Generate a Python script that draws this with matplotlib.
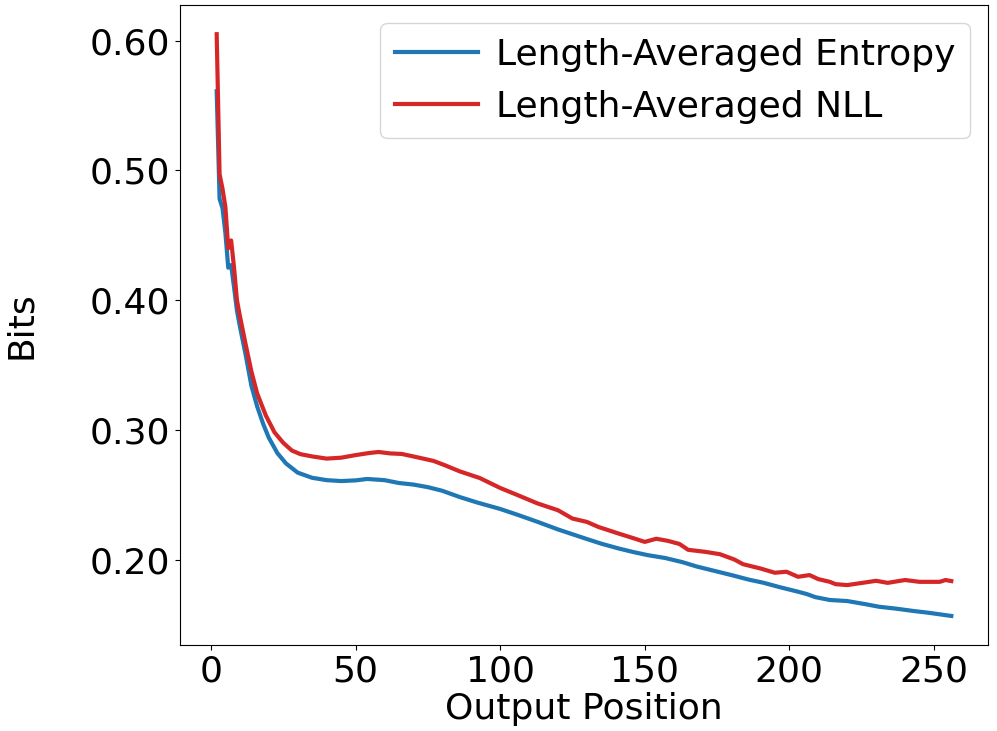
import numpy as np
import matplotlib
matplotlib.use("Agg")
import matplotlib.pyplot as plt
from matplotlib.ticker import FormatStrFormatter

# valeurs (positions de sortie et bits)
pos_entropy = [2, 3, 4, 5, 6, 7, 8, 9, 10, 12, 14, 16, 18, 20, 23, 26, 30, 35, 40, 45,
               50, 54, 60, 65, 70, 75, 80, 86, 92, 100, 106, 113, 120, 125, 130, 135,
               141, 146, 151, 157, 163, 168, 174, 180, 186, 191, 197, 203, 206, 209,
               214, 220, 226, 231, 237, 243, 248, 256]
entropy = [0.561, 0.478, 0.471, 0.452, 0.425, 0.427, 0.410, 0.392, 0.380, 0.358, 0.334,
           0.318, 0.305, 0.294, 0.282, 0.274, 0.267, 0.263, 0.2612, 0.2605, 0.261, 0.2621,
           0.2612, 0.259, 0.2578, 0.2558, 0.253, 0.2482, 0.2440, 0.2390, 0.2345, 0.229,
           0.2232, 0.2195, 0.2158, 0.2122, 0.2085, 0.2058, 0.2034, 0.2012, 0.1980, 0.1946,
           0.1913, 0.1880, 0.1845, 0.1821, 0.1785, 0.1752, 0.1734, 0.1710, 0.1688, 0.1680,
           0.1657, 0.1636, 0.1621, 0.1603, 0.1590, 0.1565]

pos_nll = [2, 3, 4, 5, 6, 7, 8, 9, 10, 12, 14, 16, 19, 22, 25, 28, 31, 35, 40, 45, 50,
           55, 58, 62, 66, 72, 77, 81, 86, 93, 100, 106, 113, 120, 125, 130, 134, 141,
           146, 150, 154, 158, 162, 165, 171, 176, 181, 184, 190, 195, 199, 203, 207,
           210, 214, 216, 220, 224, 230, 234, 240, 245, 252, 254, 256]
nll = [0.605, 0.497, 0.486, 0.472, 0.440, 0.446, 0.425, 0.400, 0.388, 0.366, 0.345,
       0.328, 0.311, 0.298, 0.290, 0.284, 0.2812, 0.2795, 0.2778, 0.2785, 0.2805, 0.2822,
       0.2829, 0.2818, 0.2814, 0.2785, 0.2760, 0.2726, 0.2680, 0.2628, 0.2552, 0.2497,
       0.2432, 0.2380, 0.2316, 0.2290, 0.2251, 0.2200, 0.2165, 0.2136, 0.2160, 0.2144,
       0.2120, 0.2075, 0.2059, 0.2041, 0.2000, 0.1964, 0.1931, 0.1898, 0.1906, 0.1867,
       0.1880, 0.1849, 0.1828, 0.1810, 0.1803, 0.1816, 0.1836, 0.1820, 0.1842, 0.1828,
       0.1828, 0.1842, 0.1834]

fs = 26

fig = plt.figure(figsize=(9.97, 7.31), dpi=100)
ax = fig.add_subplot(111)
fig.subplots_adjust(left=0.1805, right=0.991, top=0.993, bottom=0.1176)

ax.plot(pos_entropy, entropy, color='tab:blue', lw=3, label='Length-Averaged Entropy')
ax.plot(pos_nll, nll, color='tab:red', lw=3, label='Length-Averaged NLL')

ax.set_xlabel('Output Position', fontsize=fs, labelpad=2)
ax.set_ylabel('Bits', fontsize=fs, labelpad=37)
ax.tick_params(labelsize=fs)
ax.yaxis.set_major_formatter(FormatStrFormatter('%.2f'))
ax.legend(fontsize=fs, loc='upper right', handlelength=2.3, handletextpad=0.5)

fig.savefig('out.png', dpi=100)
